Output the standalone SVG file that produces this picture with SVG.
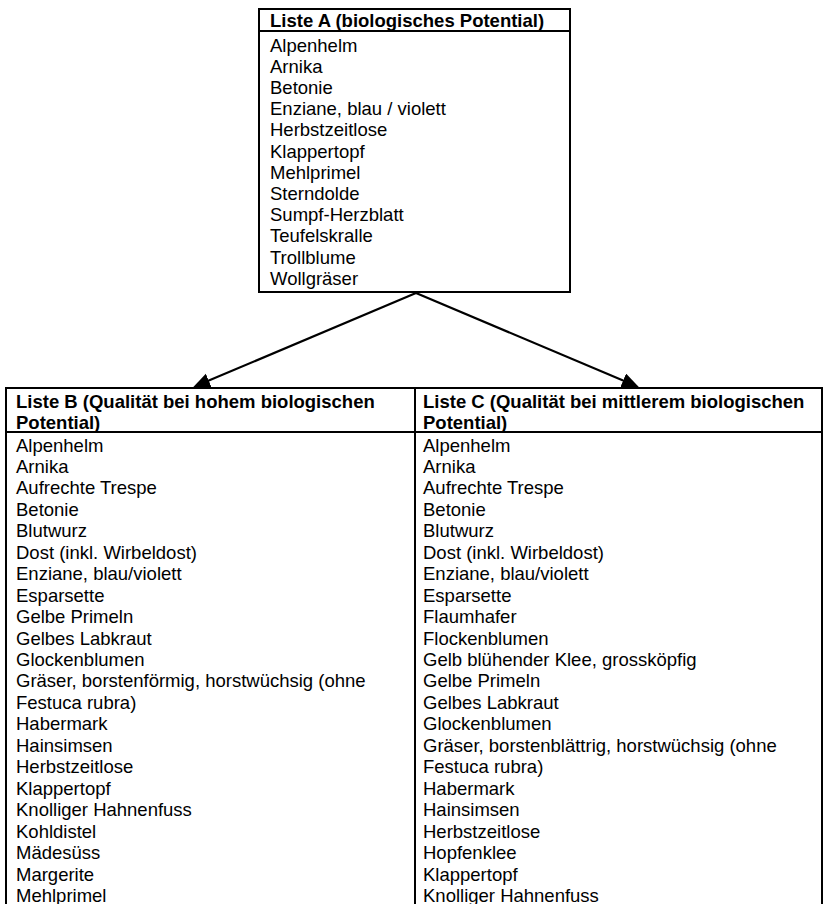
<svg xmlns="http://www.w3.org/2000/svg" width="824" height="904" viewBox="0 0 824 904">
<defs>
<style>
.box{fill:#fff;stroke:#000;stroke-width:2}
.ln{stroke:#000;stroke-width:2;fill:none}
text{font-family:"Liberation Sans",Arial,sans-serif;font-size:18.5px;fill:#000}
.h{font-weight:bold}
.conn{stroke:#000;stroke-width:2.2;fill:none;marker-end:url(#ah)}
</style>
<marker id="ah" markerUnits="userSpaceOnUse" markerWidth="20" markerHeight="18" refX="7" refY="7.5" orient="auto" viewBox="0 0 20 18">
<path d="M0,0 L17,7.5 L0,15 Z" fill="#000"/>
</marker>
</defs>
<rect width="824" height="904" fill="#fff"/>

<g id="listeA">
<rect class="box" x="259" y="9" width="311" height="283"/>
<line class="ln" x1="259" y1="31" x2="570" y2="31"/>
<text class="h" x="270" y="26.5">Liste A (biologisches Potential)</text>
<text x="270" y="51.5">Alpenhelm</text>
<text x="270" y="72.7">Arnika</text>
<text x="270" y="93.9">Betonie</text>
<text x="270" y="115.1">Enziane, blau / violett</text>
<text x="270" y="136.3">Herbstzeitlose</text>
<text x="270" y="157.5">Klappertopf</text>
<text x="270" y="178.7">Mehlprimel</text>
<text x="270" y="199.9">Sterndolde</text>
<text x="270" y="221.1">Sumpf-Herzblatt</text>
<text x="270" y="242.3">Teufelskralle</text>
<text x="270" y="263.5">Trollblume</text>
<text x="270" y="284.7">Wollgräser</text>
</g>

<g id="connectors">
<line class="conn" x1="416" y1="293" x2="202.3" y2="383.3"/>
<line class="conn" x1="416" y1="293" x2="629.6" y2="383.2"/>
</g>

<g id="table-frame">
<line class="ln" x1="5" y1="388" x2="823" y2="388"/>
<line class="ln" x1="5" y1="432" x2="823" y2="432"/>
<line class="ln" x1="6" y1="387" x2="6" y2="910"/>
<line class="ln" x1="415" y1="387" x2="415" y2="910"/>
<line class="ln" x1="822" y1="387" x2="822" y2="910"/>
</g>

<g id="listeB">
<text class="h" x="16" y="408">Liste B (Qualität bei hohem biologischen</text>
<text class="h" x="16" y="429">Potential)</text>
<text x="16" y="451.5">Alpenhelm</text>
<text x="16" y="472.95">Arnika</text>
<text x="16" y="494.4">Aufrechte Trespe</text>
<text x="16" y="515.85">Betonie</text>
<text x="16" y="537.3">Blutwurz</text>
<text x="16" y="558.75">Dost (inkl. Wirbeldost)</text>
<text x="16" y="580.2">Enziane, blau/violett</text>
<text x="16" y="601.65">Esparsette</text>
<text x="16" y="623.1">Gelbe Primeln</text>
<text x="16" y="644.55">Gelbes Labkraut</text>
<text x="16" y="666">Glockenblumen</text>
<text x="16" y="687.45">Gräser, borstenförmig, horstwüchsig (ohne</text>
<text x="16" y="708.9">Festuca rubra)</text>
<text x="16" y="730.35">Habermark</text>
<text x="16" y="751.8">Hainsimsen</text>
<text x="16" y="773.25">Herbstzeitlose</text>
<text x="16" y="794.7">Klappertopf</text>
<text x="16" y="816.15">Knolliger Hahnenfuss</text>
<text x="16" y="837.6">Kohldistel</text>
<text x="16" y="859.05">Mädesüss</text>
<text x="16" y="880.5">Margerite</text>
<text x="16" y="901.95">Mehlprimel</text>
</g>

<g id="listeC">
<text class="h" x="423" y="408">Liste C (Qualität bei mittlerem biologischen</text>
<text class="h" x="423" y="429">Potential)</text>
<text x="423" y="451.5">Alpenhelm</text>
<text x="423" y="472.95">Arnika</text>
<text x="423" y="494.4">Aufrechte Trespe</text>
<text x="423" y="515.85">Betonie</text>
<text x="423" y="537.3">Blutwurz</text>
<text x="423" y="558.75">Dost (inkl. Wirbeldost)</text>
<text x="423" y="580.2">Enziane, blau/violett</text>
<text x="423" y="601.65">Esparsette</text>
<text x="423" y="623.1">Flaumhafer</text>
<text x="423" y="644.55">Flockenblumen</text>
<text x="423" y="666">Gelb blühender Klee, grossköpfig</text>
<text x="423" y="687.45">Gelbe Primeln</text>
<text x="423" y="708.9">Gelbes Labkraut</text>
<text x="423" y="730.35">Glockenblumen</text>
<text x="423" y="751.8">Gräser, borstenblättrig, horstwüchsig (ohne</text>
<text x="423" y="773.25">Festuca rubra)</text>
<text x="423" y="794.7">Habermark</text>
<text x="423" y="816.15">Hainsimsen</text>
<text x="423" y="837.6">Herbstzeitlose</text>
<text x="423" y="859.05">Hopfenklee</text>
<text x="423" y="880.5">Klappertopf</text>
<text x="423" y="901.95">Knolliger Hahnenfuss</text>
</g>
</svg>
